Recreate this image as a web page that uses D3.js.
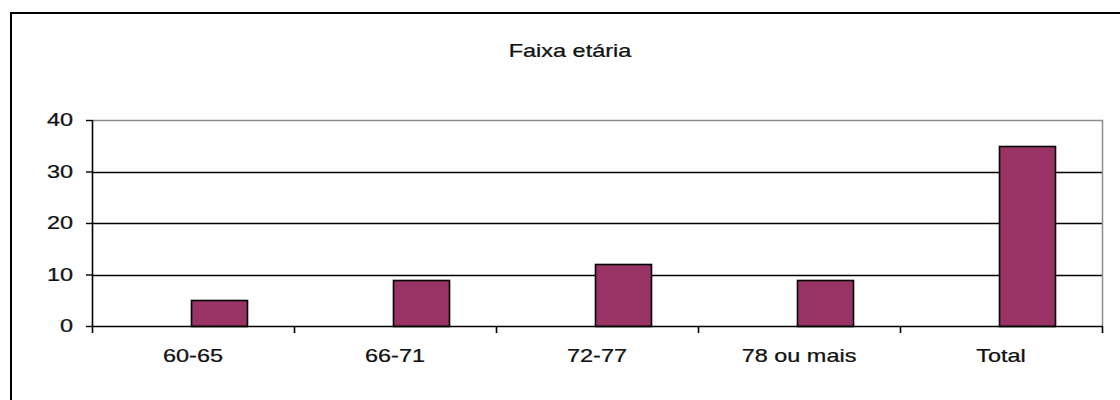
<!DOCTYPE html>
<html>
<head>
<meta charset="utf-8">
<script src="https://cdn.jsdelivr.net/npm/d3@7"></script>
<style>
  html, body { margin: 0; padding: 0; background: #fff; }
  svg { display: block; }
  text { font-family: "Liberation Sans", Arial, sans-serif; fill: #111; stroke: #111; stroke-width: 0.25px; }
</style>
</head>
<body>
<svg id="chart" width="1120" height="400"></svg>
<script>
// Chart data
const title = "Faixa etária";
const categories = ["60-65", "66-71", "72-77", "78 ou mais", "Total"];
const values = [5, 9, 12, 9, 35];
const yTicks = [0, 10, 20, 30, 40];

const W = 1120, H = 400;
const plot = { left: 92, right: 1102, top: 120, bottom: 326 };
const fontSize = 17.5;
const stretch = 1.34;   // wide glyph proportion of the labels
const barColor = "#993366";

const svg = d3.select("#chart");

// Outer chart frame (right and bottom edges run past the canvas)
svg.append("rect")
  .attr("x", 11).attr("y", 13)
  .attr("width", W + 20).attr("height", H + 20)
  .attr("fill", "#fff")
  .attr("stroke", "#000").attr("stroke-width", 2);

const x = d3.scaleBand()
  .domain(categories)
  .range([plot.left, plot.right])
  .paddingInner(0).paddingOuter(0);

const y = d3.scaleLinear()
  .domain([0, 40])
  .range([plot.bottom, plot.top]);

// helper: horizontally stretched text
function label(g, tx, ty, str, anchor) {
  return g.append("text")
    .attr("transform", `translate(${tx},${ty}) scale(${stretch},1)`)
    .attr("text-anchor", anchor)
    .attr("font-size", fontSize)
    .text(str);
}

// Title
label(svg, 570, 57, title, "middle");

// Horizontal gridlines
svg.append("g")
  .selectAll("line")
  .data(yTicks.filter(t => t > 0 && t < 40))
  .join("line")
  .attr("x1", plot.left).attr("x2", plot.right)
  .attr("y1", d => Math.round(y(d)) + 0.5).attr("y2", d => Math.round(y(d)) + 0.5)
  .attr("stroke", "#000").attr("stroke-width", 1.4);

// Plot area border (top and right) in gray
svg.append("path")
  .attr("d", `M${plot.left},${plot.top + 0.5}H${plot.right + 0.5}V${plot.bottom}`)
  .attr("fill", "none")
  .attr("stroke", "#8c8c8c").attr("stroke-width", 1.5);

// Bars
svg.append("g")
  .selectAll("rect")
  .data(categories.map((c, i) => ({ c, v: values[i] })))
  .join("rect")
  .attr("x", d => Math.round(x(d.c) + x.bandwidth() * 0.49) + 0.5)
  .attr("width", Math.round(x.bandwidth() * 0.277))
  .attr("y", d => Math.round(y(d.v)) + 0.5)
  .attr("height", d => Math.round(y(0)) - Math.round(y(d.v)))
  .attr("fill", barColor)
  .attr("stroke", "#000").attr("stroke-width", 1.6);

// Y axis
const yAxis = svg.append("g")
  .attr("transform", `translate(${plot.left},0)`)
  .call(d3.axisLeft(y).tickValues(yTicks).tickSize(6).tickFormat(""));
yAxis.select(".domain").attr("stroke", "#000").attr("stroke-width", 1.6)
  .attr("d", `M0.5,${plot.top}V${plot.bottom}`);
yAxis.selectAll(".tick line").attr("stroke", "#000").attr("stroke-width", 1.4);
yTicks.forEach(t => {
  label(svg, 73, y(t) + 6, String(t), "end");
});

// X axis with ticks at category boundaries
const bounds = categories.map(c => x(c)).concat([plot.right]);
const xAxis = svg.append("g");
xAxis.append("line")
  .attr("x1", plot.left).attr("x2", plot.right + 1)
  .attr("y1", plot.bottom + 0.5).attr("y2", plot.bottom + 0.5)
  .attr("stroke", "#000").attr("stroke-width", 1.6);
xAxis.selectAll("line.tick")
  .data(bounds)
  .join("line")
  .attr("class", "tick")
  .attr("x1", d => Math.round(d) + 0.5).attr("x2", d => Math.round(d) + 0.5)
  .attr("y1", plot.bottom).attr("y2", plot.bottom + 7)
  .attr("stroke", "#000").attr("stroke-width", 1.6);
categories.forEach(c => {
  label(svg, x(c) + x.bandwidth() / 2, 362, c, "middle");
});
</script>
</body>
</html>
